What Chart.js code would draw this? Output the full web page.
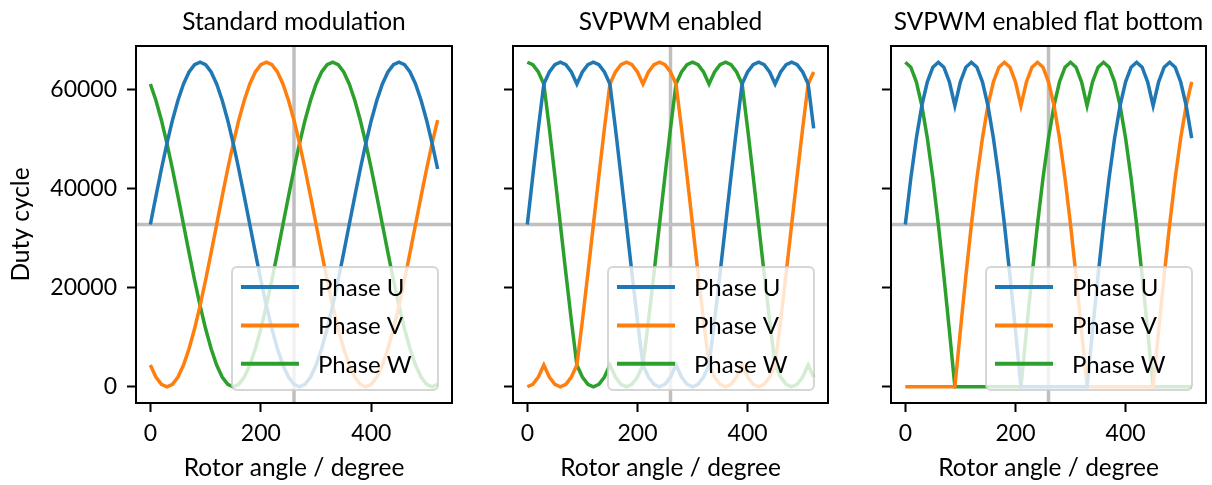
<!DOCTYPE html>
<html>
<head>
<meta charset="utf-8">
<script src="https://cdn.jsdelivr.net/npm/chart.js@4.4.0/dist/chart.umd.min.js"></script>
<style>
  html, body { margin: 0; padding: 0; background: #fff; }
  #wrap { position: relative; width: 1212px; height: 485px; overflow: hidden; }
  canvas { position: absolute; top: 0; }
</style>
</head>
<body>
<div id="wrap">
  <canvas id="c0" width="470" height="485" style="left:0px"></canvas>
  <canvas id="c1" width="375" height="485" style="left:470px"></canvas>
  <canvas id="c2" width="367" height="485" style="left:845px"></canvas>
</div>
<script>
// Rotor angle (degree) shared by all series
const angles = [0, 10, 20, 30, 40, 50, 60, 70, 80, 90, 100, 110, 120, 130, 140, 150, 160, 170, 180, 190,
  200, 210, 220, 230, 240, 250, 260, 270, 280, 290, 300, 310, 320, 330, 340, 350, 360, 370, 380, 390,
  400, 410, 420, 430, 440, 450, 460, 470, 480, 490, 500, 510, 520];

// Standard modulation
const stdU = [32768, 38458, 43975, 49152, 53830, 57869, 61145, 63559, 65037, 65535, 65037, 63559, 61145, 57869, 53830, 49152, 43975, 38458, 32768, 27078,
  21561, 16384, 11706, 7667, 4391, 1977, 499, 0, 499, 1977, 4391, 7667, 11706, 16384, 21561, 27078, 32768, 38458, 43975, 49152,
  53830, 57869, 61145, 63559, 65037, 65535, 65037, 63559, 61145, 57869, 53830, 49152, 43975];
const stdV = [4391, 1977, 499, 0, 499, 1977, 4391, 7667, 11706, 16384, 21561, 27078, 32768, 38458, 43975, 49152, 53830, 57869, 61145, 63559,
  65037, 65535, 65037, 63559, 61145, 57869, 53830, 49152, 43975, 38458, 32768, 27078, 21561, 16384, 11706, 7667, 4391, 1977, 499, 0,
  499, 1977, 4391, 7667, 11706, 16384, 21561, 27078, 32768, 38458, 43975, 49152, 53830];
const stdW = [61145, 57869, 53830, 49152, 43975, 38458, 32768, 27078, 21561, 16384, 11706, 7667, 4391, 1977, 499, 0, 499, 1977, 4391, 7667,
  11706, 16384, 21561, 27078, 32768, 38458, 43975, 49152, 53830, 57869, 61145, 63559, 65037, 65535, 65037, 63559, 61145, 57869, 53830, 49152,
  43975, 38458, 32768, 27078, 21561, 16384, 11706, 7667, 4391, 1977, 499, 0, 499];

// SVPWM enabled
const svU = [32768, 42623, 52179, 61145, 63559, 65037, 65535, 65037, 63559, 61145, 63559, 65037, 65535, 65037, 63559, 61145, 52179, 42623, 32768, 22913,
  13357, 4391, 1977, 499, 0, 499, 1977, 4391, 1977, 499, 0, 499, 1977, 4391, 13357, 22913, 32768, 42623, 52179, 61145,
  63559, 65037, 65535, 65037, 63559, 61145, 63559, 65037, 65535, 65037, 63559, 61145, 52179];
const svV = [0, 499, 1977, 4391, 1977, 499, 0, 499, 1977, 4391, 13357, 22913, 32768, 42623, 52179, 61145, 63559, 65037, 65535, 65037,
  63559, 61145, 63559, 65037, 65535, 65037, 63559, 61145, 52179, 42623, 32768, 22913, 13357, 4391, 1977, 499, 0, 499, 1977, 4391,
  1977, 499, 0, 499, 1977, 4391, 13357, 22913, 32768, 42623, 52179, 61145, 63559];
const svW = [65535, 65037, 63559, 61145, 52179, 42623, 32768, 22913, 13357, 4391, 1977, 499, 0, 499, 1977, 4391, 1977, 499, 0, 499,
  1977, 4391, 13357, 22913, 32768, 42623, 52179, 61145, 63559, 65037, 65535, 65037, 63559, 61145, 63559, 65037, 65535, 65037, 63559, 61145,
  52179, 42623, 32768, 22913, 13357, 4391, 1977, 499, 0, 499, 1977, 4391, 1977];

// SVPWM enabled flat bottom
const fbU = [32768, 42125, 50202, 56755, 61583, 64540, 65535, 64540, 61583, 56755, 61583, 64540, 65535, 64540, 61583, 56755, 50202, 42125, 32768, 22414,
  11380, 0, 0, 0, 0, 0, 0, 0, 0, 0, 0, 0, 0, 0, 11380, 22414, 32768, 42125, 50202, 56755,
  61583, 64540, 65535, 64540, 61583, 56755, 61583, 64540, 65535, 64540, 61583, 56755, 50202];
const fbV = [0, 0, 0, 0, 0, 0, 0, 0, 0, 0, 11380, 22414, 32768, 42125, 50202, 56755, 61583, 64540, 65535, 64540,
  61583, 56755, 61583, 64540, 65535, 64540, 61583, 56755, 50202, 42125, 32768, 22414, 11380, 0, 0, 0, 0, 0, 0, 0,
  0, 0, 0, 0, 0, 0, 11380, 22414, 32768, 42125, 50202, 56755, 61583];
const fbW = [65535, 64540, 61583, 56755, 50202, 42125, 32768, 22414, 11380, 0, 0, 0, 0, 0, 0, 0, 0, 0, 0, 0,
  0, 0, 11380, 22414, 32768, 42125, 50202, 56755, 61583, 64540, 65535, 64540, 61583, 56755, 61583, 64540, 65535, 64540, 61583, 56755,
  50202, 42125, 32768, 22414, 11380, 0, 0, 0, 0, 0, 0, 0, 0];

const titles = ['Standard modulation', 'SVPWM enabled', 'SVPWM enabled flat bottom'];
const seriesNames = ['Phase U', 'Phase V', 'Phase W'];
const xTicks = [0, 200, 400];
const yTicks = [0, 20000, 40000, 60000];
const refAngle = 260;     // vertical marker
const midDuty = 32768;    // horizontal marker
const xRange = [-26, 546];
const yRange = [-3277, 68812];

const colors = ['#1f77b4', '#ff7f0e', '#2ca02c'];
const FONT = 'Lato, "Open Sans", sans-serif';
const tickFont = { family: FONT, size: 23 };
const labelFont = { family: FONT, size: 24.5 };

const panels = [
  { id: 'c0', series: [stdU, stdV, stdW], yWidth: 136, padRight: 18 },
  { id: 'c1', series: [svU, svV, svW], yWidth: 43, padRight: 17 },
  { id: 'c2', series: [fbU, fbV, fbW], yWidth: 46, padRight: 6 }
];

// gray guide lines behind the curves
const guidePlugin = {
  id: 'guides',
  beforeDatasetsDraw(chart) {
    const { ctx, chartArea: a, scales: { x, y } } = chart;
    ctx.save();
    ctx.strokeStyle = 'rgba(128,128,128,0.5)';
    ctx.lineWidth = 3.5;
    ctx.beginPath();
    const px = x.getPixelForValue(refAngle);
    ctx.moveTo(px, a.top); ctx.lineTo(px, a.bottom);
    const py = y.getPixelForValue(midDuty);
    ctx.moveTo(a.left, py); ctx.lineTo(a.right, py);
    ctx.stroke();
    ctx.restore();
  }
};

// frame, legend and title
const framePlugin = {
  id: 'frame',
  afterDatasetsDraw(chart, args, opts) {
    const { ctx, chartArea: a } = chart;
    ctx.save();
    ctx.strokeStyle = '#000';
    ctx.lineWidth = 2;
    ctx.strokeRect(a.left, a.top, a.right - a.left, a.bottom - a.top);

    // legend box, bottom right
    const bw = 206, bh = 123;
    const bx = a.right - 14 - bw, by = a.bottom - 13 - bh;
    ctx.beginPath();
    ctx.roundRect(bx, by, bw, bh, 5);
    ctx.fillStyle = 'rgba(255,255,255,0.8)';
    ctx.fill();
    ctx.strokeStyle = 'rgba(204,204,204,0.8)';
    ctx.lineWidth = 2;
    ctx.stroke();
    ctx.font = '24px ' + FONT;
    ctx.textBaseline = 'middle';
    ctx.textAlign = 'left';
    chart.data.datasets.forEach((ds, i) => {
      const ry = by + 20 + i * 38.4;
      ctx.strokeStyle = ds.borderColor;
      ctx.lineWidth = 4;
      ctx.beginPath();
      ctx.moveTo(bx + 9, ry); ctx.lineTo(bx + 67, ry);
      ctx.stroke();
      ctx.fillStyle = '#000';
      ctx.fillText(ds.label, bx + 86, ry + 1);
    });

    ctx.font = '24.5px ' + FONT;
    ctx.textAlign = 'center';
    ctx.fillText(opts.text, (a.left + a.right) / 2, 22);
    ctx.restore();
  }
};

panels.forEach((p, pi) => {
  const datasets = p.series.map((vals, si) => ({
    label: seriesNames[si],
    data: angles.map((a, k) => ({ x: a, y: vals[k] })),
    borderColor: colors[si],
    borderWidth: 3.5,
    pointRadius: 0,
    fill: false,
    tension: 0
  }));
  new Chart(document.getElementById(p.id), {
    type: 'line',
    data: { datasets },
    plugins: [guidePlugin, framePlugin],
    options: {
      responsive: false,
      animation: false,
      layout: { padding: { top: 46, right: p.padRight, left: 0, bottom: 0 } },
      plugins: {
        legend: { display: false },
        tooltip: { enabled: false },
        frame: { text: titles[pi] }
      },
      scales: {
        x: {
          type: 'linear',
          min: xRange[0], max: xRange[1],
          afterBuildTicks: s => { s.ticks = xTicks.map(v => ({ value: v })); },
          afterFit: s => { s.height = 82; },
          ticks: { font: tickFont, color: '#000', padding: 8, maxRotation: 0, callback: v => String(v) },
          grid: { drawOnChartArea: false, tickLength: 9, tickWidth: 2, tickColor: '#000' },
          border: { display: false },
          title: { display: true, text: 'Rotor angle / degree', font: labelFont, color: '#000', padding: { top: 0, bottom: 2 } }
        },
        y: {
          type: 'linear',
          min: yRange[0], max: yRange[1],
          afterBuildTicks: s => { s.ticks = yTicks.map(v => ({ value: v })); },
          afterFit: s => { s.width = p.yWidth; },
          ticks: { display: pi === 0, font: tickFont, color: '#000', padding: 10, callback: v => String(v) },
          grid: { drawOnChartArea: false, tickLength: 9, tickWidth: 2, tickColor: '#000' },
          border: { display: false },
          title: { display: pi === 0, text: 'Duty cycle', font: labelFont, color: '#000', padding: { top: 6, bottom: 0 } }
        }
      }
    }
  });
});
</script>
</body>
</html>
